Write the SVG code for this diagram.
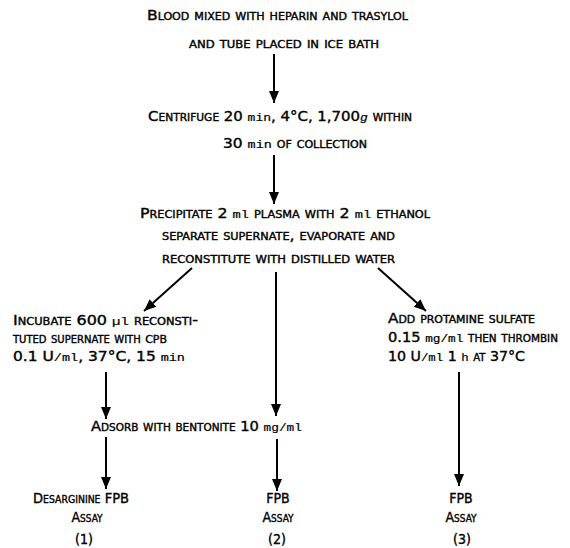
<svg xmlns="http://www.w3.org/2000/svg" width="570" height="548" viewBox="0 0 570 548">
<style>
text{font-family:"DejaVu Sans Condensed","DejaVu Sans","Liberation Sans",sans-serif;font-stretch:condensed;font-weight:normal;font-size:14px;font-variant:small-caps;fill:#000;stroke:#000;stroke-width:0.35}
.u{font-family:"Liberation Mono","DejaVu Sans Mono",monospace;font-variant:normal;font-size:11px;stroke-width:0.2}
.sc{font-size:11px}
.c{text-anchor:middle}
.conn line{stroke:#000;stroke-width:2;fill:none}
</style>
<defs>
<marker id="ah" markerUnits="userSpaceOnUse" markerWidth="12" markerHeight="14" viewBox="0 0 12 14" refX="12" refY="7" orient="auto"><path d="M0,2 L12,7 L0,12 Z" fill="#000"/></marker>
</defs>
<rect width="570" height="548" fill="#fff"/>
<g id="n1">
<text x="147" y="20" textLength="261" lengthAdjust="spacingAndGlyphs">Blood mixed with heparin and trasylol</text>
<text x="189" y="48" textLength="190" lengthAdjust="spacingAndGlyphs">and tube placed in ice bath</text>
</g>
<g id="n2">
<text x="148" y="121" textLength="264" lengthAdjust="spacingAndGlyphs">Centrifuge 20 <tspan class="u">min</tspan>, 4°C, 1,700<tspan class="u" font-style="italic">g</tspan> within</text>
<text x="223" y="148" textLength="144" lengthAdjust="spacingAndGlyphs">30 <tspan class="u">min</tspan> of collection</text>
</g>
<g id="n3">
<text x="140" y="218" textLength="290" lengthAdjust="spacingAndGlyphs">Precipitate 2 <tspan class="u">ml</tspan> plasma with 2 <tspan class="u">ml</tspan> ethanol</text>
<text x="162" y="240" textLength="233" lengthAdjust="spacingAndGlyphs">separate supernate, evaporate and</text>
<text x="162" y="263" textLength="233" lengthAdjust="spacingAndGlyphs">reconstitute with distilled water</text>
</g>
<g id="n4">
<text x="13" y="325" textLength="185" lengthAdjust="spacingAndGlyphs">Incubate 600 <tspan class="u">µl</tspan> reconsti-</text>
<text x="13" y="343" textLength="154" lengthAdjust="spacingAndGlyphs">tuted supernate with <tspan class="sc">CPB</tspan></text>
<text x="13" y="361" textLength="172" lengthAdjust="spacingAndGlyphs">0.1 U<tspan class="u">/ml</tspan>, 37°C, 15 <tspan class="u">min</tspan></text>
</g>
<g id="n5">
<text x="388" y="323" textLength="147" lengthAdjust="spacingAndGlyphs">Add protamine sulfate</text>
<text x="388" y="342" textLength="170" lengthAdjust="spacingAndGlyphs">0.15 <tspan class="u">mg/ml</tspan> then thrombin</text>
<text x="388" y="361" textLength="137" lengthAdjust="spacingAndGlyphs">10 U<tspan class="u">/ml</tspan> 1 <tspan class="u">h</tspan> at 37°C</text>
</g>
<g id="n6">
<text x="91" y="431" textLength="211" lengthAdjust="spacingAndGlyphs">Adsorb with bentonite 10 <tspan class="u">mg/ml</tspan></text>
</g>
<g id="n7">
<text x="33" y="503" textLength="96" lengthAdjust="spacingAndGlyphs">Desarginine FPB</text>
<text x="87" y="522" class="c">Assay</text>
<text x="84" y="544" class="c">(1)</text>
</g>
<g id="n8">
<text x="278" y="503" class="c">FPB</text>
<text x="278" y="522" class="c">Assay</text>
<text x="277" y="544" class="c">(2)</text>
</g>
<g id="n9">
<text x="461" y="503" class="c">FPB</text>
<text x="461" y="522" class="c">Assay</text>
<text x="462" y="544" class="c">(3)</text>
</g>
<g id="connectors" class="conn">
<line x1="274" y1="54" x2="274" y2="103" marker-end="url(#ah)"/>
<line x1="274" y1="155" x2="274" y2="204" marker-end="url(#ah)"/>
<line x1="192" y1="268" x2="144" y2="311" marker-end="url(#ah)"/>
<line x1="276" y1="272" x2="276" y2="416" marker-end="url(#ah)"/>
<line x1="378" y1="268" x2="426" y2="311" marker-end="url(#ah)"/>
<line x1="106" y1="372" x2="106" y2="419" marker-end="url(#ah)"/>
<line x1="106" y1="437" x2="106" y2="489" marker-end="url(#ah)"/>
<line x1="277" y1="439" x2="277" y2="491" marker-end="url(#ah)"/>
<line x1="459" y1="372" x2="459" y2="486" marker-end="url(#ah)"/>
</g>
</svg>
